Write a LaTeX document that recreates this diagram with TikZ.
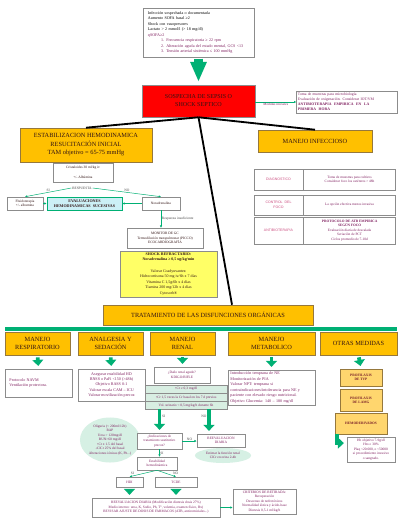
\documentclass[tikz,border=0pt]{standalone}
\usepackage{fontspec}
\setmainfont{Liberation Serif}
\setsansfont{Liberation Sans}
\usetikzlibrary{shapes.geometric,arrows.meta,positioning,calc}

\definecolor{naranja}{RGB}{255,192,0}
\definecolor{naranjaclaro}{RGB}{255,214,110}
\definecolor{rojo}{RGB}{255,0,0}
\definecolor{verde}{RGB}{0,176,116}
\definecolor{verdeclaro}{RGB}{214,240,228}
\definecolor{verdetabla}{RGB}{216,238,226}
\definecolor{celeste}{RGB}{204,240,246}
\definecolor{amarillo}{RGB}{255,255,102}
\definecolor{purpura}{RGB}{128,32,96}
\definecolor{rosa}{RGB}{204,80,130}
\definecolor{granate}{RGB}{120,30,40}
\definecolor{oscuro}{RGB}{50,20,20}
\definecolor{gris}{RGB}{140,140,140}
\definecolor{borde}{RGB}{150,120,60}

\newcommand{\tinyf}{\fontsize{2.9}{3.9}\selectfont}
\newcommand{\minif}{\fontsize{2.5}{3.2}\selectfont}
\newcommand{\headf}{\fontsize{4.5}{6}\selectfont}

\begin{document}
\begin{tikzpicture}[x=0.025cm, y=-0.025cm]
			\tikzset{
				infobox/.style={rectangle, draw=gris, fill=white, line width=0.4pt, inner sep=1pt, align=center, font=\tinyf},
				orangebox/.style={infobox, fill=naranja, draw=borde, font=\headf, text=oscuro},
				textbox/.style={infobox, text=purpura},
				celllabel/.style={infobox, font=\sffamily\minif, text=rosa},
				lightbox/.style={infobox, fill=naranjaclaro, draw=borde, font=\bfseries\minif, text=granate},
				rtab/.style={infobox, fill=verdetabla, font=\minif, text=purpura, minimum width=2.05cm, minimum height=0.19cm, inner sep=0pt},
				bubble/.style={ellipse, fill=verdeclaro, inner sep=0pt, align=center, text=purpura, font=\minif},
				lbl/.style={font=\minif, text=gris!50!black, inner sep=0.5pt},
				branch/.style={draw=black, line width=1.3pt},
				thinarrow/.style={draw=verde, line width=0.35pt, -{Latex[length=1.6pt,width=1.6pt]}},
				fatarrow/.style={draw=verde, line width=2.7pt, -{Triangle[length=0.15cm,width=0.27cm]}, shorten <=1.5pt, shorten >=2pt},
				bigarrow/.style={draw=verde, line width=7pt, -{Triangle[length=0.5cm,width=0.38cm]}},
			}
			\path[use as bounding box, fill=white] (0,0) rectangle (400,520);
			% criterios y sospecha
			\node[infobox, text width=2.525cm, inner xsep=3.5pt, align=left, minimum height=1.225cm] (crit) at (198.5,32.5) {Infección sospechada o documentada\\Aumento SOFA basal ≥2\\Shock con vasopresores\\Lactato > 2 mmol/l (> 18 mg/dl)\\\textcolor{purpura}{qSOFA≥2}\\\hspace*{0.33cm}\textcolor{purpura}{1. Frecuencia respiratoria ≥ 22 rpm}\\\hspace*{0.33cm}\textcolor{purpura}{2. Alteración aguda del estado mental, GCS <13}\\\hspace*{0.33cm}\textcolor{purpura}{3. Tensión arterial sistémica ≤ 100 mmHg}};
			\node[infobox, fill=rojo, minimum width=2.825cm, minimum height=0.8cm, font=\fontsize{4.3}{5.7}\selectfont, text=oscuro] (sospecha) at (198.5,101) {SOSPECHA DE SEPSIS O\\SHOCK SEPTICO};
			\node[textbox, text width=2.45cm, align=left, minimum height=0.55cm, font=\fontsize{2.7}{3.5}\selectfont] (medidas) at (347,102) {Toma de muestras para microbiología\\Evaluación de oxigenación. Considerar IOT/VM\\\textbf{ANTIBIOTERAPIA\ \ EMPIRICA\ \ EN\ \ LA}\\\textbf{PRIMERA\ \ HORA}};
			% estabilizacion hemodinamica
			\node[orangebox, minimum width=3.3cm, minimum height=0.85cm] (estab) at (86,145) {ESTABILIZACION HEMODINAMICA\\RESUCITACIÓN INICIAL\\TAM objetivo = 65-75 mmHg};
			\node[infobox, minimum width=1.5cm, minimum height=0.475cm, font=\minif, text=oscuro] (cristal) at (83,172.5) {Cristaloides 30 ml/kg iv\\[3.5pt]+/- Albúmina};
			\node[lbl] (resp) at (82,188) {RESPUESTA};
			\node[infobox, minimum width=0.9cm, minimum height=0.325cm, font=\minif, text=oscuro] (fluido) at (25,203.5) {Fluidoterapia\\+/- albumina};
			\node[infobox, fill=celeste, draw=verde, minimum width=1.875cm, minimum height=0.325cm, font=\bfseries\tinyf, text=oscuro] (evalh) at (84.5,203.5) {EVALUACIONES\\HEMODINAMICAS\ \ SUCESIVAS};
			\node[infobox, minimum width=0.95cm, minimum height=0.325cm, font=\minif, text=oscuro] (norad) at (161,203.5) {Noradrenalina};
			\node[infobox, minimum width=1.9cm, minimum height=0.5cm, font=\minif, text=oscuro] (monitor) at (165,238) {MONITOR DE GC\\Termodilución transpulmonar (PICCO)\\ECOCARDIOGRAFÍA};
			\node[infobox, fill=amarillo, minimum width=2.425cm, minimum height=1.15cm, font=\fontsize{2.8}{4}\selectfont, text=oscuro] (refract) at (168.5,274) {\textbf{SHOCK REFRACTARIO:}\\\textbf{Noradrenalina ≥ 0,5 ug/kg/min}\\[4pt]Valorar Coadyuvantes:\\Hidrocortisona 50 mg iv/6h x 7 días\\Vitamina C 1,5g/6h x 4 días\\Tiamina 200 mg/12h x 4 días\\Cytosorb®};
			% manejo infeccioso
			\node[orangebox, minimum width=2.85cm, minimum height=0.55cm] (infecc) at (315,141) {MANEJO INFECCIOSO};
			\node[celllabel, minimum width=1.225cm, minimum height=0.525cm] (diag) at (278.5,179.5) {DIAGNOSTICO};
			\node[textbox, right=0pt of diag, minimum width=2.3cm, minimum height=0.525cm, font=\minif] (diagtx) {Toma de muestras para cultivos\\Considerar foco los catéteres > 48h};
			\node[celllabel, minimum width=1.225cm, minimum height=0.5cm] (focus) at (278.5,205) {CONTROL\ \ DEL\\FOCO};
			\node[textbox, right=0pt of focus, minimum width=2.3cm, minimum height=0.5cm, font=\minif] (focustx) {La opción efectiva menos invasiva};
			\node[celllabel, minimum width=1.225cm, minimum height=0.675cm] (atb) at (278.5,230.5) {ANTIBIOTERAPIA};
			\node[textbox, right=0pt of atb, minimum width=2.3cm, minimum height=0.675cm, font=\minif] (atbtx) {\textbf{PROTOCOLO DE ATB EMPIRICA}\\\textbf{SEGÚN FOCO}\\Evaluación diaria de descalada\\Seriación de PCT\\Ciclos promedio de 7-10d};
			% disfunciones organicas
			\node[orangebox, minimum width=5.25cm, minimum height=0.5cm] (tratam) at (208,315) {TRATAMIENTO DE LAS DISFUNCIONES ORGÁNICAS};
			\node[fill=verde, minimum width=9.8cm, minimum height=0.1cm, inner sep=0pt] (banda) at (201,329) {};
			\node[orangebox, minimum width=1.625cm, minimum height=0.575cm] (hresp) at (37.5,343.5) {MANEJO\\RESPIRATORIO};
			\node[orangebox, minimum width=1.625cm, minimum height=0.575cm] (hanalg) at (110.5,343.5) {ANALGESIA Y\\SEDACIÓN};
			\node[orangebox, minimum width=1.625cm, minimum height=0.575cm] (hrenal) at (182.5,343.5) {MANEJO\\RENAL};
			\node[orangebox, minimum width=2.175cm, minimum height=0.575cm] (hmetab) at (271.5,343.5) {MANEJO\\METABOLICO};
			\node[orangebox, minimum width=1.925cm, minimum height=0.575cm] (hotras) at (358.5,343.5) {OTRAS MEDIDAS};
			\node[textbox, minimum width=1.675cm, minimum height=0.7cm, text width=1.45cm, align=left] (navm) at (38.5,383) {Protocolo NAVM\\Ventilación protectora.};
			\node[textbox, minimum width=1.675cm, minimum height=0.8cm] (analgc) at (111.5,385) {Asegurar estabilidad HD\\BNSS o PaFi <150 (>48h)\\Objetivo RASS 0-1\\Valorar escala CAM – ICU\\Valorar movilización precoz};
			\node[textbox, minimum width=1.4cm, minimum height=0.4cm, font=\minif] (dano) at (182,375) {¿Daño renal agudo?\\KDIGO/RIFLE};
			\node[rtab] (tab1) at (186,389) {↑Cr ≥ 0,3 mg/dl};
			\node[rtab, below=0pt of tab1] (tab2) {↑Cr 1,5 veces la Cr basal en los 7 d previos};
			\node[rtab, below=0pt of tab2] (tab3) {Vol. urinario < 0,5 mg/kg/h durante 6h};
			\node[textbox, minimum width=2.175cm, minimum height=0.875cm, text width=2.05cm, align=left] (metabc) at (271.5,387.5) {Introducción temprana de NE\\Monitorización de PIA\\Valorar NPT: temprana si\\contraindicaciones/intolerancia para NE y\\paciente con elevado riesgo nutricional.\\Objetivo Glucemia: 140 – 180 mg/dl};
			\node[lightbox, minimum width=1.05cm, minimum height=0.425cm] (tvp) at (361,377.5) {PROFILAXIS\\DE TVP};
			\node[lightbox, below=0.075cm of tvp, minimum width=1.05cm, minimum height=0.55cm] (lamg) {PROFILAXIS\\DE LAMG};
			\node[lightbox, below=0.025cm of lamg, minimum width=1.3cm, minimum height=0.525cm] (hemo) {HEMODERIVADOS};
			\node[textbox, minimum width=1.2cm, minimum height=0.625cm, font=\minif] (hb) at (371,449.5) {Hb objetivo 7-9g/dl\\Hto ≥ 30\%\\Plaq <20.000, o <50000\\si procedimiento invasivo\\o sangrado.};
			% rama renal
			\node[bubble, minimum width=1.5cm, minimum height=1.125cm] (olig) at (110,440) {Oliguria (< 200ml/12h)\\RAP\\Urea > 120mg/dl\\BUN>60 mg/dl\\↑Cr x 1.5 del basal\\↓ClCr 25\% del basal\\Alteraciones iónicas (K, Ph...)};
			\node[textbox, minimum width=1.125cm, minimum height=0.4cm, font=\minif] (indic) at (159.5,441) {¿Indicaciones de\\tratamiento sustitutivo\\precoz?};
			\node[textbox, minimum width=1.2cm, minimum height=0.325cm, font=\minif] (reev1) at (221,440.5) {REEVALUACION\\DIARIA};
			\node[bubble, minimum width=1.4cm, minimum height=0.375cm] (estim) at (223,455.5) {Estimar la función renal\\ClCr en orina 2-4h};
			\node[textbox, minimum width=1cm, minimum height=0.325cm, font=\minif] (estab2) at (157,463.5) {Estabilidad\\hemodinámica};
			\node[textbox, minimum width=0.675cm, minimum height=0.25cm, font=\minif] (hdi) at (129.5,482) {HDI};
			\node[textbox, minimum width=1.05cm, minimum height=0.25cm, font=\minif] (tcde) at (176,482) {TCDE};
			\node[textbox, minimum width=3.2cm, minimum height=0.475cm, font=\minif] (reev2) at (156,507.5) {REEVALUACION DIARIA (Modificación diuresis dosis 27\%)\\Medio interno: urea, K, Sodio, Ph, T°, volemia, examen físico, Rx)\\REVISAR AJUSTE DE DOSIS DE FARMACOS (ATB, anticomiciales...)};
			\node[textbox, minimum width=1.575cm, minimum height=0.625cm, font=\minif] (retir) at (264.5,501.5) {CRITERIOS DE RETIRADA:\\Recuperación\\Descenso de nefrotóxicos\\Normalidad iónica y ácido-base\\Diuresis 0,5-1 ml/kg/h};
			\coordinate (noin) at ([xshift=-0.3cm]reev1.north);
			\coordinate (hemoout) at ([xshift=0.06cm]hemo.south west);
			\coordinate (hbin) at ([yshift=0.16cm]hb.west);
			%draw arrows
			\draw[bigarrow, shorten <=1pt, shorten >=2pt] (crit.south) -- (sospecha.north);
			\draw[thinarrow] (sospecha.east |- medidas.west) -- node[lbl, below, text=purpura] {Medidas iniciales} (medidas.west);
			\draw[branch] (sospecha.south) -- (estab.north);
			\draw[branch] (sospecha.south) -- (infecc.north);
			\draw[branch] (sospecha.south) -- ($(tratam.north)+(24,0)$);
			\draw[thinarrow] (resp.west) -- node[lbl, above] {SI} (fluido.north);
			\draw[thinarrow] (resp.east) -- node[lbl, above] {NO} (norad.north);
			\draw[thinarrow] (fluido) -- (evalh);
			\draw[thinarrow] (norad) -- (evalh);
			\draw[thinarrow] (norad.south) -- node[lbl, right] {Respuesta insuficiente} (norad.south |- monitor.north);
			\draw[fatarrow] (hresp.south) -- (navm.north);
			\draw[fatarrow] (hanalg.south) -- (analgc.north);
			\draw[fatarrow] (hrenal.south) -- (hrenal.south |- dano.north);
			\draw[fatarrow] (hmetab.south) -- (metabc.north);
			\draw[fatarrow] (hotras.south) -- (tvp.north);
			\draw[fatarrow, shorten <=0pt] (hemoout) -- (hemoout |- hbin) -- (hbin);
			\draw[fatarrow, shorten <=0pt] (tab3.south -| indic.north) -- node[lbl, right, pos=0.28] {SI} (indic.north);
			\draw[fatarrow, shorten <=0pt] (noin |- tab3.south) -- node[lbl, left, pos=0.28] {NO} (noin);
			\draw[thinarrow] (indic.east) -- node[lbl, above] {NO} (indic.east -| reev1.west);
			\draw[thinarrow] (indic.south) -- node[lbl, right] {SI} (indic.south |- estab2.north);
			\draw[thinarrow] (estab2.south) -- node[lbl, above left, pos=0.8] {SI} (hdi.north);
			\draw[thinarrow] (estab2.south) -- node[lbl, above right, pos=0.8] {NO} (tcde.north);
			\draw[fatarrow] (hdi.south) -- (hdi.south |- reev2.north);
			\draw[fatarrow] (tcde.south) -- (tcde.south |- reev2.north);
			\draw[thinarrow] (reev2.east) -- (reev2.east -| retir.west);
		\end{tikzpicture}
\end{document}
